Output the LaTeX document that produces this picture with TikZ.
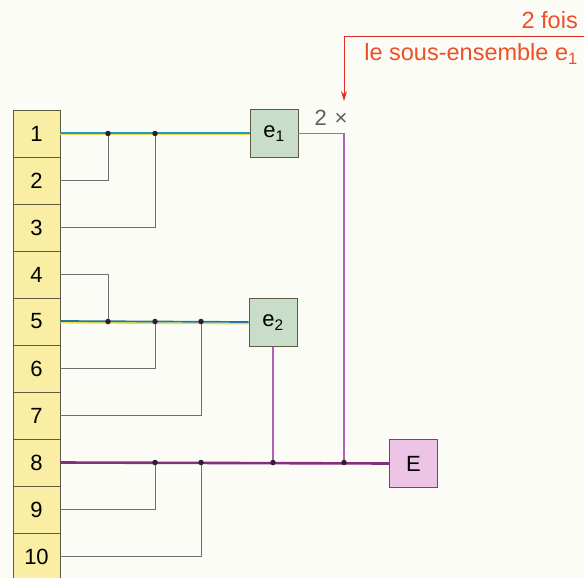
\documentclass[tikz,border=0pt]{standalone}
\usepackage{fontspec}
\setmainfont{Liberation Sans}
\usetikzlibrary{arrows.meta}
\definecolor{bgcol}{RGB}{252,252,246}
\definecolor{boxyellow}{RGB}{250,238,165}
\definecolor{boxedge}{RGB}{95,90,65}
\definecolor{egreen}{RGB}{200,222,202}
\definecolor{epink}{RGB}{236,196,230}
\definecolor{busblue}{RGB}{40,150,200}
\definecolor{busyellow}{RGB}{232,222,70}
\definecolor{buspurple}{RGB}{135,45,125}
\definecolor{linkpurple}{RGB}{180,95,185}
\definecolor{wiregray}{RGB}{110,110,110}
\definecolor{dotcol}{RGB}{45,30,50}
\definecolor{redtxt}{RGB}{235,80,40}
\definecolor{redline}{RGB}{225,45,35}
\definecolor{timesgray}{RGB}{95,95,95}
\begin{document}
\begin{tikzpicture}[x=1pt,y=-1pt,
  font=\fontsize{22}{24}\selectfont,
  numbox/.style={draw=boxedge, fill=boxyellow, line width=0.8pt, minimum width=47pt, minimum height=47pt, inner sep=0pt},
  ebox/.style={draw=boxedge, line width=0.8pt, minimum width=48pt, minimum height=48pt, inner sep=0pt},
  wire/.style={wiregray, line width=0.9pt},
  jdot/.style={circle, fill=dotcol, inner sep=0pt, minimum size=5.5pt},
  redlabel/.style={anchor=base east, text=redtxt, font=\fontsize{23.5}{26}\selectfont, inner sep=0pt}]
\fill[bgcol] (0,0) rectangle (584,578);
\useasboundingbox (0,0) rectangle (584,578);
\clip (0,0) rectangle (584,578);

% number column
\foreach \i in {1,...,10}
  \node[numbox] (n\i) at (36.5, {133.5+47*(\i-1)}) {\i};

% sub-assemblies
\node[ebox, fill=egreen] (e1) at (274,133.5) {e\textsubscript{1}};
\node[ebox, fill=egreen] (e2) at (273,322.5) {e\textsubscript{2}};
\node[ebox, fill=epink] (E) at (413.5,463.5) {E};

% column guides
\coordinate (xa) at (108,0);
\coordinate (xb) at (155,0);
\coordinate (xc) at (201,0);
\coordinate (xe) at (344,0);

% junctions
\coordinate (j1a) at (n1.east -| xa);
\coordinate (j1b) at (n1.east -| xb);
\coordinate (j5a) at (n5.east -| xa);
\coordinate (j5b) at (n5.east -| xb);
\coordinate (j5c) at (n5.east -| xc);
\coordinate (j8b) at (n8.east -| xb);
\coordinate (j8c) at (n8.east -| xc);
\coordinate (j8d) at (n8.east -| e2.south);
\coordinate (j8e) at (n8.east -| xe);

% gray wires
\draw[wire] (n2.east) -| (j1a);
\draw[wire] (n3.east) -| (j1b);
\draw[wire] (n4.east) -| (j5a);
\draw[wire] (n6.east) -| (j5b);
\draw[wire] (n7.east) -| (j5c);
\draw[wire] (n9.east) -| (j8b);
\draw[wire] (n10.east) -| (j8c);

% purple links
\draw[linkpurple, line width=1.3pt] (e1.east) -| (j8e);
\draw[linkpurple, line width=1.3pt] (e2.south) -- (j8d);

% buses
\draw[busyellow, line width=1.7pt, transform canvas={yshift=-1.1pt}] (n1.east) -- (e1.west);
\draw[busblue, line width=1.7pt, transform canvas={yshift=0.5pt}] (n1.east) -- (e1.west);
\draw[busyellow, line width=1.7pt, transform canvas={yshift=-1.1pt}] (n5.east) -- (e2.west);
\draw[busblue!80!black, line width=1.7pt, transform canvas={yshift=0.5pt}] (n5.east) -- (e2.west);
\draw[buspurple, line width=2.6pt] (n8.east) -- (E.west);

% junction dots
\foreach \j in {j1a,j1b,j5a,j5b,j5c,j8b,j8c,j8d,j8e}
  \node[jdot] at (\j) {};

% annotation
\node[text=timesgray, anchor=base, inner sep=0pt] (twox) at (331,125) {2\hspace{0.35em}×};
\coordinate (rstart) at (584,37);
\coordinate (rtip) at (344,101);
\draw[redline, line width=1pt, -{Stealth[length=10pt,width=6pt]}] (rstart) -| (rtip);
\node[redlabel] (fois) at (578,29) {2 fois};
\node[redlabel] (sous) at (578,61) {le sous-ensemble e\textsubscript{1}};
\end{tikzpicture}
\end{document}
